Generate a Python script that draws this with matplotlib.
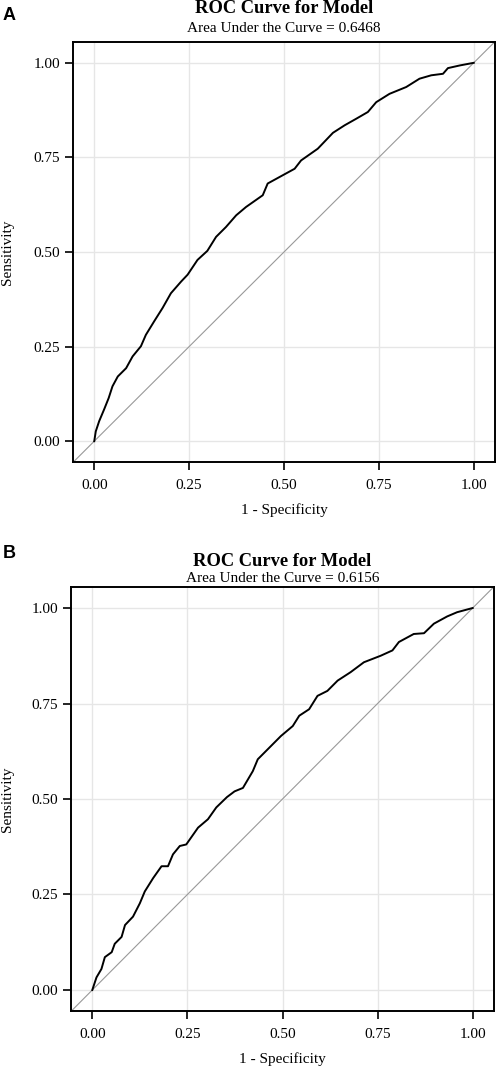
import matplotlib.pyplot as plt

plt.rcParams['font.family'] = ['Liberation Serif', 'DejaVu Serif']

# ROC curve A
fpr_a = [0.0, 0.004, 0.013, 0.026, 0.038, 0.048, 0.062, 0.084, 0.101, 0.123,
         0.136, 0.158, 0.180, 0.202, 0.229, 0.246, 0.272, 0.298, 0.321, 0.347,
         0.374, 0.400, 0.444, 0.457, 0.497, 0.528, 0.545, 0.589, 0.629, 0.660,
         0.690, 0.721, 0.743, 0.778, 0.822, 0.857, 0.888, 0.919, 0.932, 0.963, 1.0]
tpr_a = [0.0, 0.026, 0.053, 0.084, 0.114, 0.145, 0.171, 0.193, 0.224, 0.251,
         0.281, 0.317, 0.352, 0.391, 0.422, 0.440, 0.479, 0.503, 0.540, 0.566,
         0.597, 0.619, 0.650, 0.681, 0.703, 0.720, 0.742, 0.773, 0.815, 0.835,
         0.852, 0.870, 0.896, 0.918, 0.936, 0.958, 0.967, 0.971, 0.986, 0.993, 1.0]

# ROC curve B
fpr_b = [0.0, 0.011, 0.024, 0.033, 0.051, 0.059, 0.077, 0.086, 0.107, 0.125,
         0.138, 0.160, 0.182, 0.199, 0.212, 0.230, 0.247, 0.278, 0.304, 0.326,
         0.354, 0.374, 0.396, 0.422, 0.435, 0.452, 0.474, 0.496, 0.527, 0.544,
         0.570, 0.592, 0.618, 0.645, 0.679, 0.714, 0.758, 0.789, 0.806, 0.845,
         0.872, 0.898, 0.933, 0.959, 1.0]
tpr_b = [0.0, 0.033, 0.055, 0.086, 0.099, 0.121, 0.139, 0.170, 0.192, 0.227,
         0.258, 0.293, 0.324, 0.324, 0.355, 0.377, 0.381, 0.425, 0.447, 0.478,
         0.505, 0.520, 0.529, 0.573, 0.604, 0.621, 0.643, 0.665, 0.691, 0.718,
         0.735, 0.770, 0.783, 0.810, 0.832, 0.858, 0.875, 0.889, 0.911, 0.932,
         0.934, 0.959, 0.978, 0.989, 1.0]

panels = ['A', 'B']
auc_values = ['0.6468', '0.6156']
ticks = [0.0, 0.25, 0.5, 0.75, 1.0]
tick_labels = ['0.00', '0.25', '0.50', '0.75', '1.00']

W, H = 496, 1070
fig = plt.figure(figsize=(W / 100, H / 100), dpi=100)

# axes boxes in pixels: left, top, right, bottom
boxes = [(73, 42, 495, 462), (71, 587, 494, 1011)]
title_y = [(13, 32, 514, 16), (566, 582, 1063, 553)]
curves = [(fpr_a, tpr_a), (fpr_b, tpr_b)]

for i in range(2):
    l, t, r, b = boxes[i]
    ax = fig.add_axes([l / W, 1 - b / H, (r - l) / W, (b - t) / H])
    ax.set_xlim(-0.056, 1.056)
    ax.set_ylim(-0.055, 1.055)
    ax.grid(True, color='#e6e6e6', lw=1.0)
    ax.set_axisbelow(True)
    ax.plot([-0.1, 1.1], [-0.1, 1.1], color='#999999', lw=0.8)
    ax.plot(curves[i][0], curves[i][1], color='black', lw=1.4)
    ax.set_xticks(ticks)
    ax.set_xticklabels(tick_labels)
    ax.set_yticks(ticks)
    ax.set_yticklabels(tick_labels)
    ax.tick_params(labelsize=11, length=6, width=1.2, color='black')
    ax.tick_params(axis='x', pad=6.5)
    ax.tick_params(axis='y', pad=3.5)
    for s in ax.spines.values():
        s.set_linewidth(1.4)
        s.set_color('black')

    cx = (l + r) / 2 / W
    ty, sy, xy, py = title_y[i]
    fig.text(cx, 1 - ty / H, 'ROC Curve for Model', ha='center', va='baseline',
             fontsize=13.3, fontweight='bold')
    fig.text(cx, 1 - sy / H, 'Area Under the Curve = ' + auc_values[i],
             ha='center', va='baseline', fontsize=11)
    fig.text(cx, 1 - xy / H, '1 - Specificity', ha='center', va='baseline',
             fontsize=11)
    fig.text(8 / W, 1 - (t + b) / 2 / H, 'Sensitivity', rotation=90,
             ha='center', va='center', fontsize=11)
    fig.text(3 / W, 1 - py / H, panels[i], ha='left', va='center',
             fontsize=13, fontweight='bold', family='Liberation Sans')

fig.savefig('out.png', dpi=100)
